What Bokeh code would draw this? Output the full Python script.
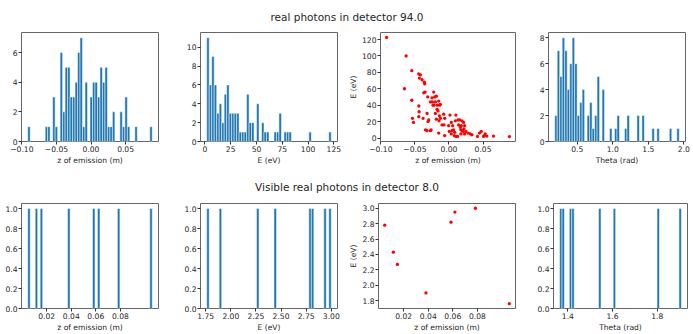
import numpy as np
from bokeh.plotting import figure
from bokeh.layouts import column, row
from bokeh.models import Range1d, FixedTicker, CustomJSTickFormatter, ColumnDataSource
from bokeh.core.properties import value
from bokeh.embed import file_html
from bokeh.resources import INLINE

FONT = "DejaVu Sans"
BAR = "#1f77b4"
TXT = "#262626"

# ---------------- all real photons (94) ----------------
# 50-bin histogram counts, with the data range each was binned over
z_range = (-0.0915, 0.0886)
z_counts = [1, 0, 0, 0, 0, 0, 0, 1, 1, 0,
            3, 1, 0, 6, 2, 5, 5, 3, 3, 4,
            6, 7, 1, 4, 0, 3, 4, 4, 3, 5,
            4, 5, 1, 1, 2, 0, 0, 2, 1, 3,
            1, 0, 0, 1, 0, 0, 0, 0, 0, 1]

e_range = (1.8, 122.5)
e_counts = [11, 6, 9, 6, 3, 4, 2, 5, 6, 3,
            3, 3, 3, 1, 1, 1, 5, 2, 2, 0,
            4, 0, 2, 1, 1, 0, 0, 1, 1, 3,
            0, 1, 1, 1, 0, 0, 0, 0, 0, 0,
            0, 1, 0, 0, 0, 0, 0, 0, 0, 1]

theta_range = (0.183, 1.935)
theta_counts = [2, 7, 5, 8, 7, 4, 6, 8, 6, 2,
                3, 4, 0, 2, 3, 1, 2, 5, 0, 4,
                0, 0, 1, 0, 1, 2, 0, 0, 1, 2,
                0, 0, 0, 2, 0, 2, 0, 0, 0, 1,
                0, 1, 0, 0, 0, 0, 1, 0, 0, 1]

# emission z (m) and energy (eV) of each photon
z_pts = [-0.0915,
         -0.0653, -0.0629,
         -0.0546, -0.0546, -0.0536, -0.0521,
         -0.0443, -0.0419, -0.0434, -0.0443, -0.0439, -0.0443,
         -0.0395, -0.0380,
         -0.0361, -0.0356, -0.0370, -0.0351, -0.0346,
         -0.0322, -0.0307, -0.0312, -0.0322, -0.0297,
         -0.0273, -0.0273, -0.0263,
         -0.0249, -0.0244, -0.0234,
         -0.0224, -0.0210, -0.0219, -0.0200,
         -0.0185, -0.0200, -0.0175, -0.0161, -0.0185, -0.0171,
         -0.0151, -0.0136, -0.0127, -0.0141, -0.0127, -0.0146, -0.0151,
         -0.0102,
         -0.0078, -0.0063, -0.0073, -0.0063,
         0.0015, 0.0005, -0.0005,
         0.0034, 0.0044, 0.0034, 0.0054,
         0.0093, 0.0083, 0.0068, 0.0078,
         0.0102, 0.0102, 0.0127,
         0.0141, 0.0156, 0.0132, 0.0166, 0.0175,
         0.0200, 0.0180, 0.0190, 0.0175,
         0.0214, 0.0229, 0.0205, 0.0229, 0.0219,
         0.0249,
         0.0278,
         0.0312, 0.0336,
         0.0419, 0.0448,
         0.0473,
         0.0507, 0.0531, 0.0521,
         0.0556,
         0.0653,
         0.0886]
e_pts = [122.5,
         60, 100,
         82, 46, 24, 19,
         78, 77, 73, 39, 32, 26,
         71, 24,
         68, 66, 55, 56, 10,
         30, 20, 50, 9, 22,
         9, 44, 10,
         49, 44, 40,
         56, 50, 40, 30,
         51, 44, 35, 33, 23, 40,
         45, 40, 41, 27, 24, 21, 6,
         16,
         29, 24, 16, 3,
         28, 8, 15,
         19, 9, 5, 15,
         21, 7, 10, 3,
         28, 2, 2,
         16, 22, 22, 13, 10,
         9, 15, 21, 5,
         19, 15, 8, 5, 11,
         8,
         6,
         5, 4,
         2, 6,
         8,
         2, 5, 3,
         2.4,
         2.4,
         1.8]

# ---------------- visible real photons (8) ----------------
vis_z = [0.0045, 0.0115, 0.0148, 0.0381, 0.0585, 0.0617, 0.0784, 0.1060]
vis_e = [2.78, 2.43, 2.27, 1.90, 2.82, 2.95, 3.00, 1.76]
vis_theta = [1.363, 1.376, 1.408, 1.420, 1.542, 1.608, 1.806, 1.908]


def fmt(dec):
    return CustomJSTickFormatter(code=(
        "const s = Math.abs(tick).toFixed(%d);"
        "return (tick < -1e-12 ? '\\u2212' : '') + s;" % dec))


def make_fig(w, h, left, right, top, bottom, xr, yr):
    p = figure(width=w, height=h, x_range=xr, y_range=yr,
               toolbar_location=None, tools="", output_backend="svg",
               min_border_left=left, min_border_right=right,
               min_border_top=top, min_border_bottom=bottom)
    p.grid.visible = False
    p.outline_line_color = "#666666"
    p.outline_line_width = 1
    p.background_fill_color = "white"
    p.border_fill_color = "white"
    for ax in (p.xaxis, p.yaxis):
        ax.axis_line_color = None
        ax.major_tick_line_color = "#333333"
        ax.major_tick_out = 3
        ax.major_tick_in = 0
        ax.minor_tick_out = 0
        ax.minor_tick_in = 0
        ax.major_label_text_font = FONT
        ax.major_label_text_font_size = "7.6px"
        ax.major_label_text_color = TXT
        ax.major_label_standoff = 1
        ax.axis_label_text_font = FONT
        ax.axis_label_text_font_size = "7.6px"
        ax.axis_label_text_font_style = "normal"
        ax.axis_label_text_color = TXT
        ax.axis_label_standoff = 1
    return p


def ticks(p, xt, xdec, yt, ydec, xlabel, ylabel=None):
    p.xaxis.ticker = FixedTicker(ticks=xt)
    p.xaxis.formatter = fmt(xdec)
    p.yaxis.ticker = FixedTicker(ticks=yt)
    p.yaxis.formatter = fmt(ydec)
    p.xaxis.axis_label = xlabel
    if ylabel:
        p.yaxis.axis_label = ylabel


def hist_fig(counts, lo, hi, dims):
    counts = np.asarray(counts, dtype=float)
    edges = np.linspace(lo, hi, len(counts) + 1)
    span = hi - lo
    xr = Range1d(lo - 0.05 * span, hi + 0.05 * span)
    yr = Range1d(0, 1.05 * counts.max())
    p = make_fig(*dims, xr, yr)
    keep = counts > 0
    src = ColumnDataSource(dict(left=edges[:-1][keep], right=edges[1:][keep],
                                top=counts[keep]))
    p.quad(left="left", right="right", bottom=0, top="top", source=src,
           fill_color=BAR, line_color="white", line_width=0.5)
    return p


def scatter_fig(xs, ys, dims):
    xs = np.asarray(xs, dtype=float)
    ys = np.asarray(ys, dtype=float)
    sx = xs.max() - xs.min()
    sy = ys.max() - ys.min()
    xr = Range1d(xs.min() - 0.05 * sx, xs.max() + 0.05 * sx)
    yr = Range1d(ys.min() - 0.05 * sy, ys.max() + 0.05 * sy)
    p = make_fig(*dims, xr, yr)
    p.scatter(xs, ys, size=3.3, marker="circle", fill_color="red", line_color=None)
    return p


def title_fig(text, h, from_top):
    p = figure(width=693, height=h, x_range=Range1d(0, 693), y_range=Range1d(0, h),
               toolbar_location=None, tools="", output_backend="svg",
               x_axis_type=None, y_axis_type=None, min_border=0)
    p.grid.visible = False
    p.outline_line_color = None
    p.text(x=[346.5], y=[h - from_top], text=[text], text_align="center",
           text_baseline="middle", text_font=value(FONT),
           text_font_size="10.5px", text_color=TXT)
    return p


# ---------------- top row ----------------
R1H = 138
a1 = hist_fig(z_counts, *z_range, (175, R1H, 21, 17, 2, 27))
ticks(a1, [-0.1, -0.05, 0.0, 0.05], 2, [0, 2, 4, 6], 0, "z of emission (m)")

a2 = hist_fig(e_counts, *e_range, (171, R1H, 25, 9, 2, 27))
ticks(a2, [0, 25, 50, 75, 100, 125], 0, [0, 2, 4, 6, 8, 10], 0, "E (eV)")

a3 = scatter_fig(z_pts, e_pts, (176, R1H, 34, 7, 2, 27))
ticks(a3, [-0.1, -0.05, 0.0, 0.05], 2, [0, 20, 40, 60, 80, 100, 120], 0,
      "z of emission (m)", "E (eV)")

a4 = hist_fig(theta_counts, *theta_range, (171, R1H, 26, 8, 2, 27))
ticks(a4, [0.5, 1.0, 1.5, 2.0], 1, [0, 2, 4, 6, 8], 0, "Theta (rad)")

# ---------------- bottom row ----------------
R2H = 134
unit_ticks = [0.0, 0.2, 0.4, 0.6, 0.8, 1.0]

cz, ez = np.histogram(vis_z, bins=50)
b1 = hist_fig(cz, ez[0], ez[-1], (175, R2H, 21, 17, 3, 22))
ticks(b1, [0.02, 0.04, 0.06, 0.08], 2, unit_ticks, 1, "z of emission (m)")

ce, ee = np.histogram(vis_e, bins=50)
b2 = hist_fig(ce, ee[0], ee[-1], (171, R2H, 25, 9, 3, 22))
ticks(b2, [1.75, 2.0, 2.25, 2.5, 2.75, 3.0], 2, unit_ticks, 1, "E (eV)")

b3 = scatter_fig(vis_z, vis_e, (180, R2H, 32, 11, 3, 22))
ticks(b3, [0.02, 0.04, 0.06, 0.08], 2, [1.8, 2.0, 2.2, 2.4, 2.6, 2.8, 3.0], 1,
      "z of emission (m)", "E (eV)")

ct, et = np.histogram(vis_theta, bins=50)
b4 = hist_fig(ct, et[0], et[-1], (167, R2H, 27, 6, 3, 22))
ticks(b4, [1.4, 1.6, 1.8], 1, unit_ticks, 1, "Theta (rad)")

t1 = title_fig("real photons in detector 94.0", 30, 16)
t2 = title_fig("Visible real photons in detector 8.0", 32, 18.7)

layout = column(t1, row(a1, a2, a3, a4, spacing=0), t2,
                row(b1, b2, b3, b4, spacing=0), spacing=0)

open("out.html", "w").write(file_html(layout, INLINE))
